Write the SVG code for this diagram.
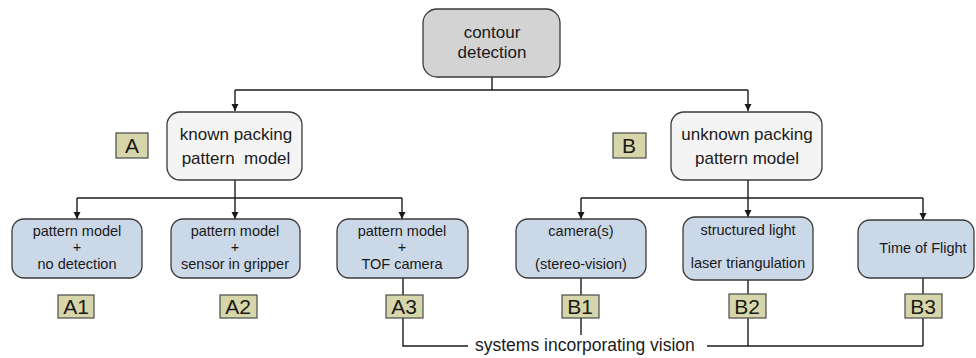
<svg xmlns="http://www.w3.org/2000/svg" width="976" height="358" viewBox="0 0 976 358">
  <defs>
    <marker id="arrow" viewBox="0 0 10 10" refX="10" refY="5" markerWidth="7" markerHeight="9" orient="auto" markerUnits="userSpaceOnUse">
      <path d="M0,0 L10,5 L0,10 z" fill="#1a1a1a"/>
    </marker>
    <style>
      text { font-family: "Liberation Sans", Arial, sans-serif; fill: #1a1a1a; text-anchor: middle; }
      .root { fill: #d3d3d3; stroke: #3a3a3a; stroke-width: 1.3; }
      .mid { fill: #f4f4f4; stroke: #3a3a3a; stroke-width: 1.3; }
      .leaf { fill: #cad8e8; stroke: #3a3a3a; stroke-width: 1.3; }
      .tag { fill: #d7d6aa; stroke: #4a4a4a; stroke-width: 1.2; }
      .wire { fill: none; stroke: #1a1a1a; stroke-width: 1.4; }
      .t16 { font-size: 17px; }
      .t14 { font-size: 14.5px; }
      .t20 { font-size: 21px; }
      .note { font-size: 17.5px; text-anchor: start; }
    </style>
  </defs>

  <!-- connectors -->
  <g id="connectors">
    <path class="wire" d="M492,77 V90"/>
    <path class="wire" d="M235,90 H748"/>
    <path class="wire" d="M235,90 V111" marker-end="url(#arrow)"/>
    <path class="wire" d="M748,90 V111" marker-end="url(#arrow)"/>

    <path class="wire" d="M235,180 V198"/>
    <path class="wire" d="M77,198 H402"/>
    <path class="wire" d="M77,198 V219" marker-end="url(#arrow)"/>
    <path class="wire" d="M235,198 V219" marker-end="url(#arrow)"/>
    <path class="wire" d="M402,198 V219" marker-end="url(#arrow)"/>

    <path class="wire" d="M748,180 V198"/>
    <path class="wire" d="M581,198 H923"/>
    <path class="wire" d="M581,198 V219" marker-end="url(#arrow)"/>
    <path class="wire" d="M748,198 V217" marker-end="url(#arrow)"/>
    <path class="wire" d="M923,198 V220" marker-end="url(#arrow)"/>

    <!-- vision systems bracket -->
    <path class="wire" d="M403,278 V346 H468"/>
    <path class="wire" d="M581,278 V335"/>
    <path class="wire" d="M707,346 H923"/>
    <path class="wire" d="M748,280 V346"/>
    <path class="wire" d="M923,278 V346"/>
  </g>

  <!-- root -->
  <g id="contour-detection">
    <rect class="root" x="423" y="9" width="137" height="68" rx="14"/>
    <text class="t16" x="492" y="38">contour</text>
    <text class="t16" x="492" y="58">detection</text>
  </g>

  <!-- second level -->
  <g id="known-model">
    <rect class="mid" x="167" y="112" width="135" height="68" rx="13"/>
    <text class="t16" x="236" y="140">known packing</text>
    <text class="t16" x="236" y="164" xml:space="preserve">pattern  model</text>
  </g>
  <g id="tag-A">
    <rect class="tag" x="116" y="133" width="32" height="25"/>
    <text class="t20" x="132" y="153">A</text>
  </g>

  <g id="unknown-model">
    <rect class="mid" x="671" y="112" width="151" height="68" rx="13"/>
    <text class="t16" x="747" y="140">unknown packing</text>
    <text class="t16" x="747" y="164">pattern model</text>
  </g>
  <g id="tag-B">
    <rect class="tag" x="613" y="133" width="33" height="25"/>
    <text class="t20" x="629" y="153">B</text>
  </g>

  <!-- leaves -->
  <g id="A1">
    <rect class="leaf" x="12" y="219" width="130" height="59" rx="12"/>
    <text class="t14" x="77" y="236">pattern model</text>
    <text class="t14" x="77" y="252">+</text>
    <text class="t14" x="77" y="269">no detection</text>
  </g>
  <g id="tag-A1">
    <rect class="tag" x="58" y="295" width="36" height="23"/>
    <text class="t20" x="76" y="314">A1</text>
  </g>

  <g id="A2">
    <rect class="leaf" x="171" y="219" width="129" height="59" rx="12"/>
    <text class="t14" x="235" y="236">pattern model</text>
    <text class="t14" x="235" y="252">+</text>
    <text class="t14" x="235" y="269">sensor in gripper</text>
  </g>
  <g id="tag-A2">
    <rect class="tag" x="220" y="295" width="37" height="23"/>
    <text class="t20" x="238" y="314">A2</text>
  </g>

  <g id="A3">
    <rect class="leaf" x="337" y="219" width="131" height="59" rx="12"/>
    <text class="t14" x="402" y="236">pattern model</text>
    <text class="t14" x="402" y="252">+</text>
    <text class="t14" x="402" y="269">TOF camera</text>
  </g>
  <g id="tag-A3">
    <rect class="tag" x="386" y="295" width="37" height="23"/>
    <text class="t20" x="404" y="314">A3</text>
  </g>

  <g id="B1">
    <rect class="leaf" x="516" y="219" width="130" height="59" rx="12"/>
    <text class="t14" x="581" y="236">camera(s)</text>
    <text class="t14" x="581" y="269">(stereo-vision)</text>
  </g>
  <g id="tag-B1">
    <rect class="tag" x="562" y="295" width="37" height="23"/>
    <text class="t20" x="580" y="314">B1</text>
  </g>

  <g id="B2">
    <rect class="leaf" x="683" y="217" width="130" height="63" rx="12"/>
    <text class="t14" x="748" y="235">structured light</text>
    <text class="t14" x="748" y="268">laser triangulation</text>
  </g>
  <g id="tag-B2">
    <rect class="tag" x="729" y="294" width="37" height="24"/>
    <text class="t20" x="747" y="314">B2</text>
  </g>

  <g id="B3">
    <rect class="leaf" x="858" y="220" width="116" height="58" rx="12"/>
    <text class="t14" x="923" y="253">Time of Flight</text>
  </g>
  <g id="tag-B3">
    <rect class="tag" x="905" y="294" width="37" height="24"/>
    <text class="t20" x="923" y="314">B3</text>
  </g>

  <g id="vision-note">
    <text class="note" x="475" y="351">systems incorporating vision</text>
  </g>
</svg>
